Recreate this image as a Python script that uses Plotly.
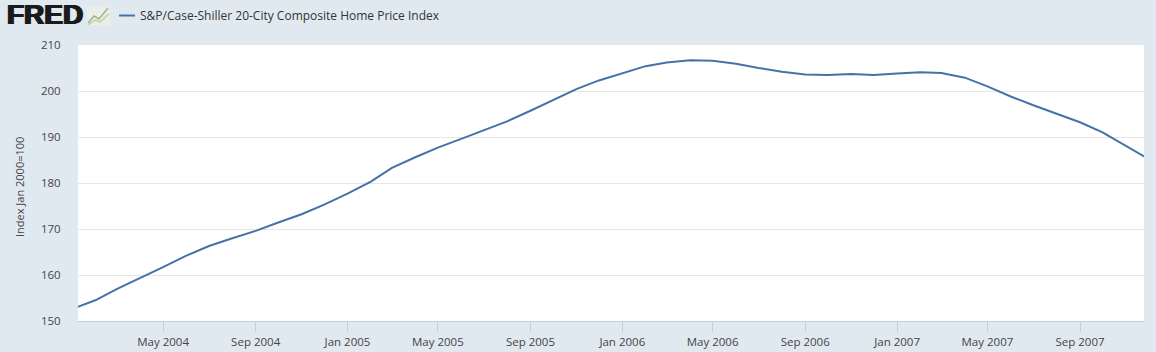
import plotly.graph_objects as go

months = ["2004-01-01","2004-02-01","2004-03-01","2004-04-01","2004-05-01","2004-06-01","2004-07-01","2004-08-01","2004-09-01","2004-10-01","2004-11-01","2004-12-01",
          "2005-01-01","2005-02-01","2005-03-01","2005-04-01","2005-05-01","2005-06-01","2005-07-01","2005-08-01","2005-09-01","2005-10-01","2005-11-01","2005-12-01",
          "2006-01-01","2006-02-01","2006-03-01","2006-04-01","2006-05-01","2006-06-01","2006-07-01","2006-08-01","2006-09-01","2006-10-01","2006-11-01","2006-12-01",
          "2007-01-01","2007-02-01","2007-03-01","2007-04-01","2007-05-01","2007-06-01","2007-07-01","2007-08-01","2007-09-01","2007-10-01","2007-11-01","2007-12-01"]
values = [152.6,154.5,157.0,159.3,161.7,164.2,166.3,168.0,169.6,171.4,173.2,175.3,
          177.7,180.3,183.3,185.6,187.7,189.6,191.5,193.4,195.7,198.1,200.4,202.3,
          203.8,205.4,206.2,206.7,206.6,205.9,205.0,204.2,203.6,203.5,203.7,203.5,
          203.8,204.1,203.9,202.9,201.0,198.8,196.9,195.0,193.2,191.0,188.0,185.2]
ticks = ["2004-05-01","2004-09-01","2005-01-01","2005-05-01","2005-09-01","2006-01-01","2006-05-01","2006-09-01","2007-01-01","2007-05-01","2007-09-01"]
tick_labels = ["May 2004","Sep 2004","Jan 2005","May 2005","Sep 2005","Jan 2006","May 2006","Sep 2006","Jan 2007","May 2007","Sep 2007"]
y_ticks = [150,160,170,180,190,200,210]
series_name = "S&P/Case-Shiller 20-City Composite Home Price Index"

FONT = "Open Sans"
W, H = 1156, 352
L, R, T, B = 78, 12, 45, 31
PW, PH = W - L - R, H - T - B
def px(x): return (x - L) / PW
def py(y): return (H - B - y) / PH

fig = go.Figure(go.Scatter(x=months, y=values, mode="lines", line=dict(color="#4572a7", width=2), name=series_name))
icon = [
    dict(type="rect", xref="paper", yref="paper", x0=px(87), x1=px(110), y0=py(26), y1=py(6), fillcolor="#e9eee6", line=dict(width=0), layer="below"),
    dict(type="path", xref="paper", yref="paper", line=dict(color="#9fb59a", width=1.5),
         path=f"M {px(88)} {py(23)} L {px(94)} {py(16)} L {px(99)} {py(19)} L {px(108)} {py(8)}"),
    dict(type="path", xref="paper", yref="paper", line=dict(color="#c2cf9c", width=1.5),
         path=f"M {px(88)} {py(25)} L {px(95)} {py(20)} L {px(100)} {py(22)} L {px(109)} {py(14)}"),
]
fig.update_layout(
    width=W, height=H, margin=dict(l=L, r=R, t=T, b=B, autoexpand=False),
    paper_bgcolor="#e1e9f0", plot_bgcolor="#ffffff", showlegend=False,
    font=dict(family=FONT, size=12, color="#444444"),
    xaxis=dict(range=["2004-01-09","2007-11-25"], tickmode="array", tickvals=ticks, ticktext=tick_labels, automargin=False,
               showgrid=False, ticks="outside", ticklen=10, tickcolor="#c0d0e0", tickwidth=1,
               showline=True, linecolor="#c0d0e0", tickfont=dict(size=11.5, color="#444444")),
    yaxis=dict(range=[150,210], tickvals=y_ticks, showgrid=True, gridcolor="#e6e6e6", gridwidth=1, zeroline=False,
               ticks="outside", ticklen=14, tickcolor="rgba(0,0,0,0)", showline=False,
               tickfont=dict(size=11.5, color="#444444"), automargin=False),
    annotations=[
        dict(text="<b>FRED</b>", xref="paper", yref="paper", x=px(5), y=py(15), xanchor="left", yanchor="middle",
             showarrow=False, font=dict(family="Liberation Sans", size=28, color="#1a1a1a",
                                        shadow="1px 0 0 #1a1a1a, -1px 0 0 #1a1a1a")),
        dict(text=series_name, xref="paper", yref="paper", x=px(138), y=py(16), xanchor="left", yanchor="middle",
             showarrow=False, font=dict(family=FONT, size=12, color="#333333")),
        dict(text="Index Jan 2000=100", xref="paper", yref="paper", x=px(19), y=py(187), xanchor="center", yanchor="middle",
             textangle=-90, showarrow=False, font=dict(family=FONT, size=11, color="#444444")),
    ],
    shapes=[dict(type="line", xref="paper", yref="paper", x0=px(119), x1=px(135), y0=py(15.5), y1=py(15.5),
                 line=dict(color="#4572a7", width=2))] + icon,
)
fig.write_html("out.html", config={"displayModeBar": False}, post_script="document.body.style.margin='0';")
